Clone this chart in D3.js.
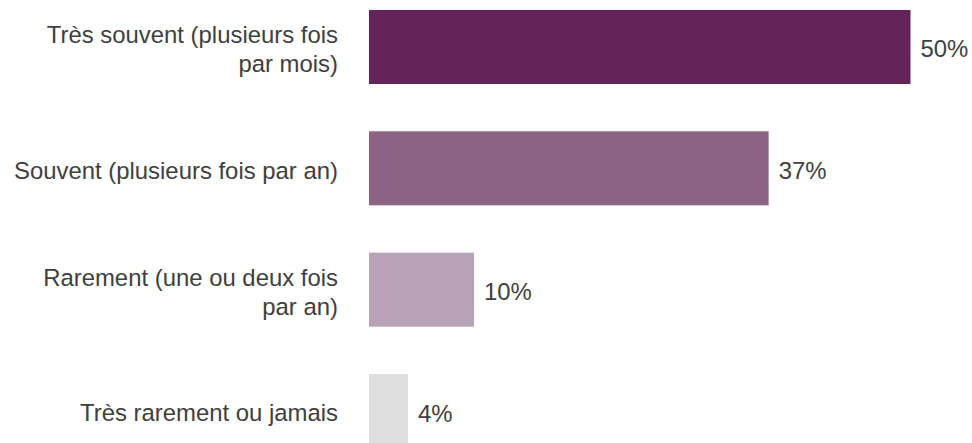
<!DOCTYPE html>
<html>
<head>
<meta charset="utf-8">
<script src="https://cdn.jsdelivr.net/npm/d3@7"></script>
<style>
  body { margin: 0; background: #fff; overflow: hidden; }
  text { font-family: "Liberation Sans", Arial, sans-serif; fill: #404040; }
</style>
</head>
<body>
<script>
// categories (label lines), values in %, bar colours
var categories = [
  ["Très souvent (plusieurs fois", "par mois)"],
  ["Souvent (plusieurs fois par an)"],
  ["Rarement (une ou deux fois", "par an)"],
  ["Très rarement ou jamais"]
];
var values = [50.0, 36.9, 9.7, 3.6];
var colors = ["#652459", "#8c6383", "#b8a2b5", "#dedede"];

var dataset = values.map(function(v, i) {
  return {key: i, lines: categories[i], value: v, color: colors[i]};
});

var fullwidth = 972, fullheight = 443;
var margin = {top: -13.7, left: 369};
var step = 121.35;

var svg = d3.select("body").append("svg")
    .attr("width", fullwidth)
    .attr("height", fullheight)
  .append("g")
    .attr("transform", "translate(" + margin.left + "," + margin.top + ")");

// set the ranges
var x = d3.scaleLinear().domain([0, 50]).range([0, 541.5]);
var y = d3.scaleBand()
    .domain(dataset.map(function(d) { return d.key; }))
    .range([0, step * 4])
    .paddingInner(0.39)
    .paddingOuter(0.195);

var fontSize = 23.9;

// bars
svg.selectAll(".bar")
    .data(dataset)
  .enter().append("rect")
    .attr("class", "bar")
    .attr("x", x(0))
    .attr("y", function(d) { return y(d.key); })
    .attr("width", function(d) { return x(d.value); })
    .attr("height", y.bandwidth())
    .style("fill", function(d) { return d.color; });

// value labels
svg.selectAll(".value")
    .data(dataset)
  .enter().append("text")
    .attr("class", "value")
    .attr("x", function(d) { return x(d.value) + 10; })
    .attr("y", function(d) { return y(d.key) + y.bandwidth() / 2; })
    .attr("dy", "0.44em")
    .style("font-size", fontSize + "px")
    .text(function(d) { return Math.round(d.value) + "%"; });

// category labels, right aligned
var labels = svg.selectAll(".label")
    .data(dataset)
  .enter().append("text")
    .attr("class", "label")
    .style("font-size", fontSize + "px")
    .style("text-anchor", "end");

labels.each(function(d) {
  var cy = y(d.key) + y.bandwidth() / 2;
  var n = d.lines.length;
  d3.select(this).selectAll("tspan")
      .data(d.lines)
    .enter().append("tspan")
      .attr("x", -31)
      .attr("y", function(l, i) { return cy + (i - (n - 1) / 2) * 29 + 10.4; })
      .text(function(l) { return l; });
});
</script>
</body>
</html>
